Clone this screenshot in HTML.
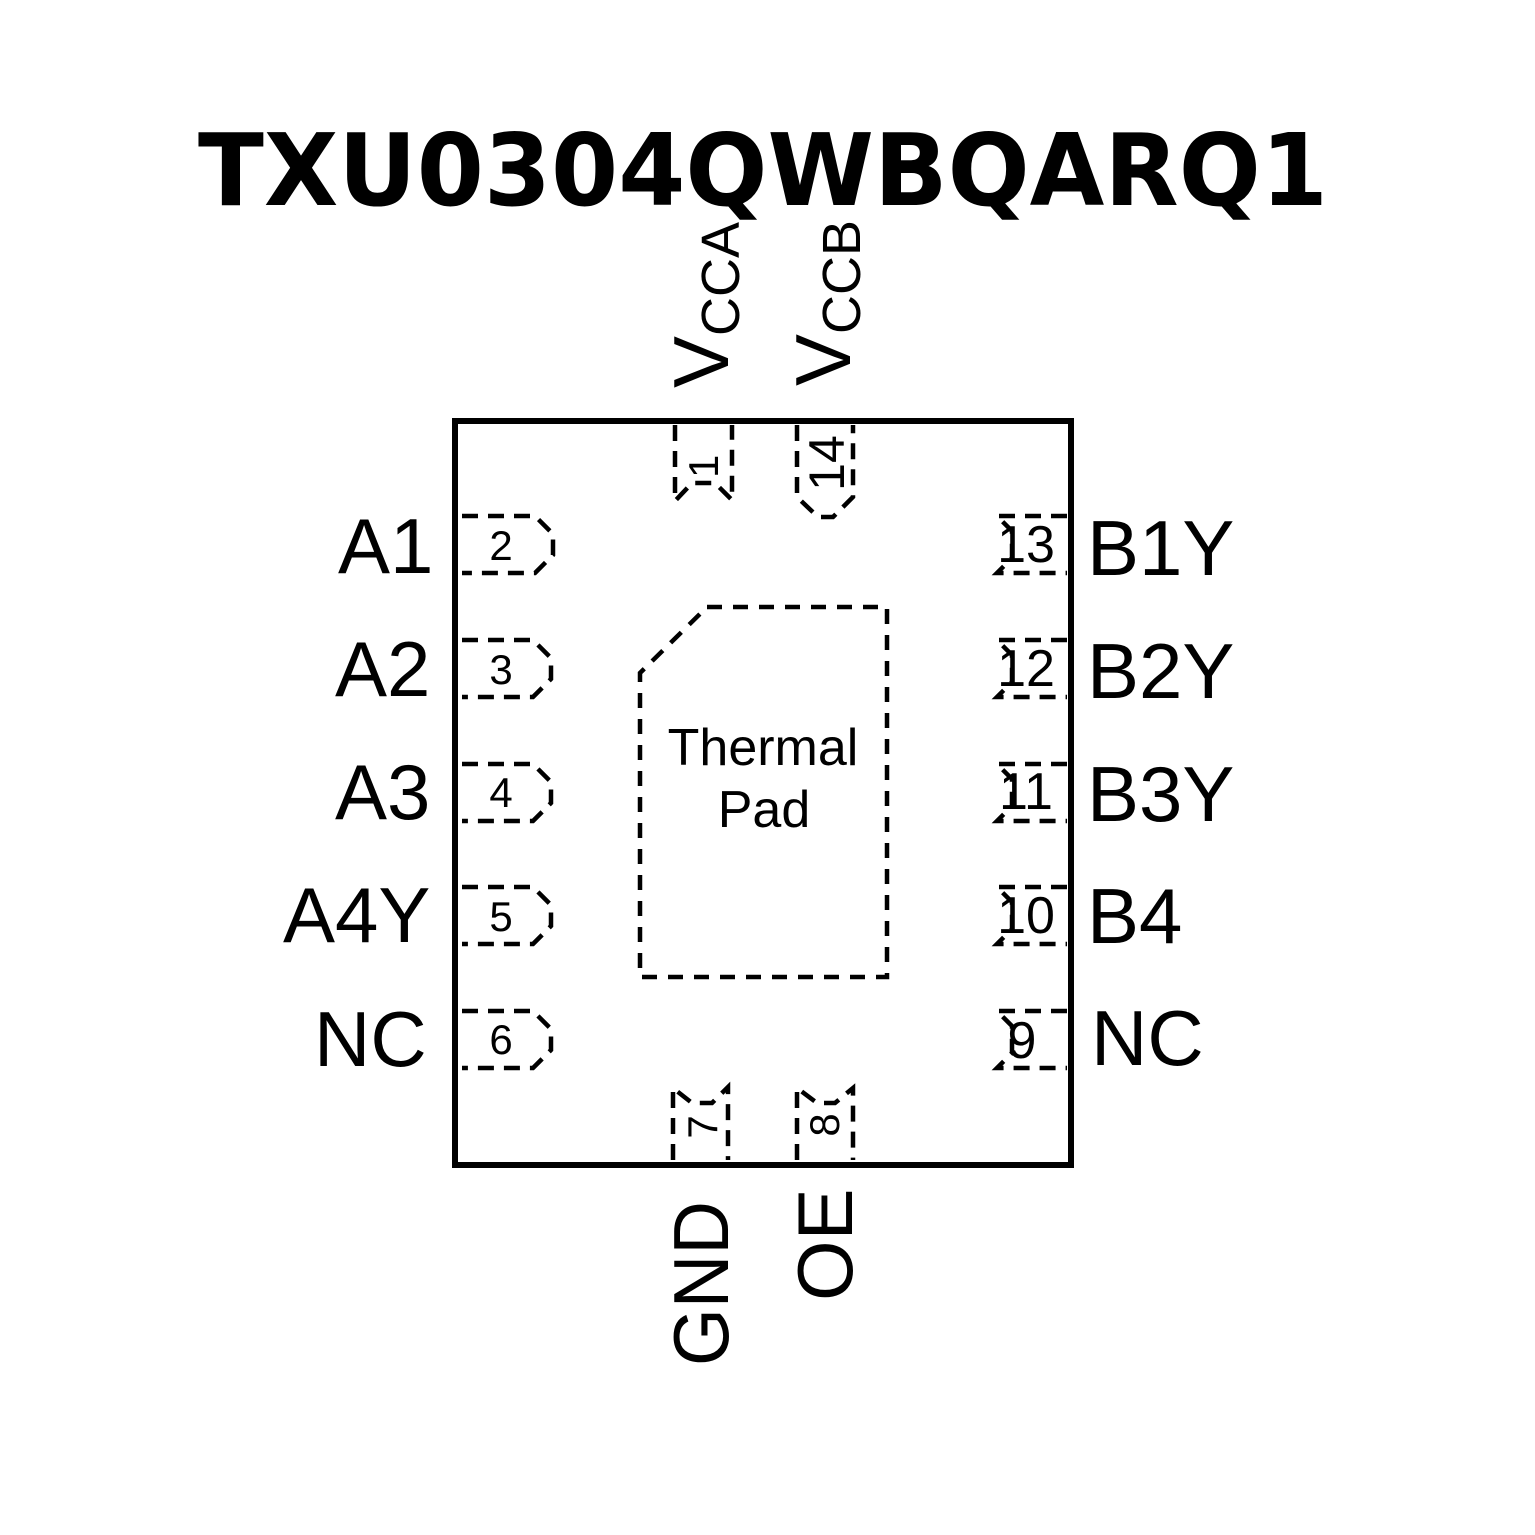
<!DOCTYPE html>
<html>
<head>
<meta charset="utf-8">
<style>
html,body{margin:0;padding:0;background:#fff;}
svg{display:block;}
text{font-family:"Liberation Sans",Arial,sans-serif;fill:#000;}
.t{font-family:"DejaVu Sans","Liberation Sans",sans-serif;font-weight:bold;}
.pad{fill:none;stroke:#000;stroke-width:4.5;stroke-dasharray:16 10;}
.tp{fill:none;stroke:#000;stroke-width:4.5;stroke-dasharray:15 11;}
</style>
</head>
<body>
<svg width="1535" height="1535" viewBox="0 0 1535 1535" xmlns="http://www.w3.org/2000/svg">
<rect width="1535" height="1535" fill="#fff"/>
<!-- Title -->
<text class="t" x="198" y="205" font-size="100" textLength="1130" lengthAdjust="spacingAndGlyphs">TXU0304QWBQARQ1</text>

<!-- Package outline -->
<rect x="455" y="421" width="616" height="744" fill="none" stroke="#000" stroke-width="6"/>

<!-- Thermal pad -->
<path class="tp" d="M707,607 H887 V977 H640 V673 Z"/>
<text x="763" y="765" font-size="52" text-anchor="middle">Thermal</text>
<text x="764" y="827" font-size="52" text-anchor="middle">Pad</text>

<!-- Left pads -->
<path class="pad" d="M462,516 H535 L553,534 V555 L535,573 H462"/>
<path class="pad" d="M462,640 H533 L551,658 V679 L533,697 H462"/>
<path class="pad" d="M462,764 H533 L551,782 V803 L533,821 H462"/>
<path class="pad" d="M462,887 H533 L551,905 V926 L533,944 H462"/>
<path class="pad" d="M462,1011 H533 L551,1029 V1050 L533,1068 H462"/>
<g font-size="42" text-anchor="middle">
<text x="501" y="560">2</text>
<text x="501" y="684">3</text>
<text x="501" y="807">4</text>
<text x="501" y="931">5</text>
<text x="501" y="1054">6</text>
</g>

<!-- Right pads -->
<path class="pad" d="M1067,516 H997 L1012,531 V558 L997,573 H1067"/>
<path class="pad" d="M1067,640 H997 L1012,655 V682 L997,697 H1067"/>
<path class="pad" d="M1067,764 H997 L1012,779 V806 L997,821 H1067"/>
<path class="pad" d="M1067,887 H997 L1012,902 V929 L997,944 H1067"/>
<path class="pad" d="M1067,1011 H997 L1012,1026 V1053 L997,1068 H1067"/>
<g font-size="52" text-anchor="middle">
<text x="1026" y="562">13</text>
<text x="1026" y="686">12</text>
<text x="1026" y="809">11</text>
<text x="1026" y="933">10</text>
<text x="1022" y="1058">9</text>
</g>

<!-- Top pads -->
<path class="pad" d="M675,425 V501 L692,483 H715 L732,500 V425"/>
<path class="pad" d="M797,425 V497 L818,517 H833 L853,497 V425"/>
<text font-size="42" transform="translate(718,478) rotate(-90)">1</text>
<text font-size="50" text-anchor="middle" transform="translate(844,463) rotate(-90)">14</text>

<!-- Bottom pads -->
<path class="pad" d="M673,1160 V1088 L692,1103 H712 L728,1087 V1160"/>
<path class="pad" d="M797,1160 V1088 L817,1103 H835 L853,1088 V1160"/>
<text font-size="42" text-anchor="middle" transform="translate(717,1127) rotate(-90)">7</text>
<text font-size="42" text-anchor="middle" transform="translate(839,1125) rotate(-90)">8</text>

<!-- Left labels -->
<g font-size="78">
<text x="338" y="573">A1</text>
<text x="335" y="696">A2</text>
<text x="335" y="819">A3</text>
<text x="283" y="942">A4Y</text>
<text x="314" y="1066">NC</text>
</g>

<!-- Right labels -->
<g font-size="78">
<text x="1087" y="575">B1Y</text>
<text x="1087" y="698">B2Y</text>
<text x="1087" y="821">B3Y</text>
<text x="1087" y="943">B4</text>
<text x="1091" y="1065">NC</text>
</g>

<!-- Top labels -->
<text transform="translate(728,388) rotate(-90)"><tspan font-size="78">V</tspan><tspan font-size="54" dy="11">CCA</tspan></text>
<text transform="translate(850,386) rotate(-90)"><tspan font-size="78">V</tspan><tspan font-size="54" dy="10">CCB</tspan></text>

<!-- Bottom labels -->
<text font-size="78" transform="translate(728,1366) rotate(-90)" textLength="165" lengthAdjust="spacingAndGlyphs">GND</text>
<text font-size="78" transform="translate(852,1301) rotate(-90)">OE</text>
</svg>
</body>
</html>
